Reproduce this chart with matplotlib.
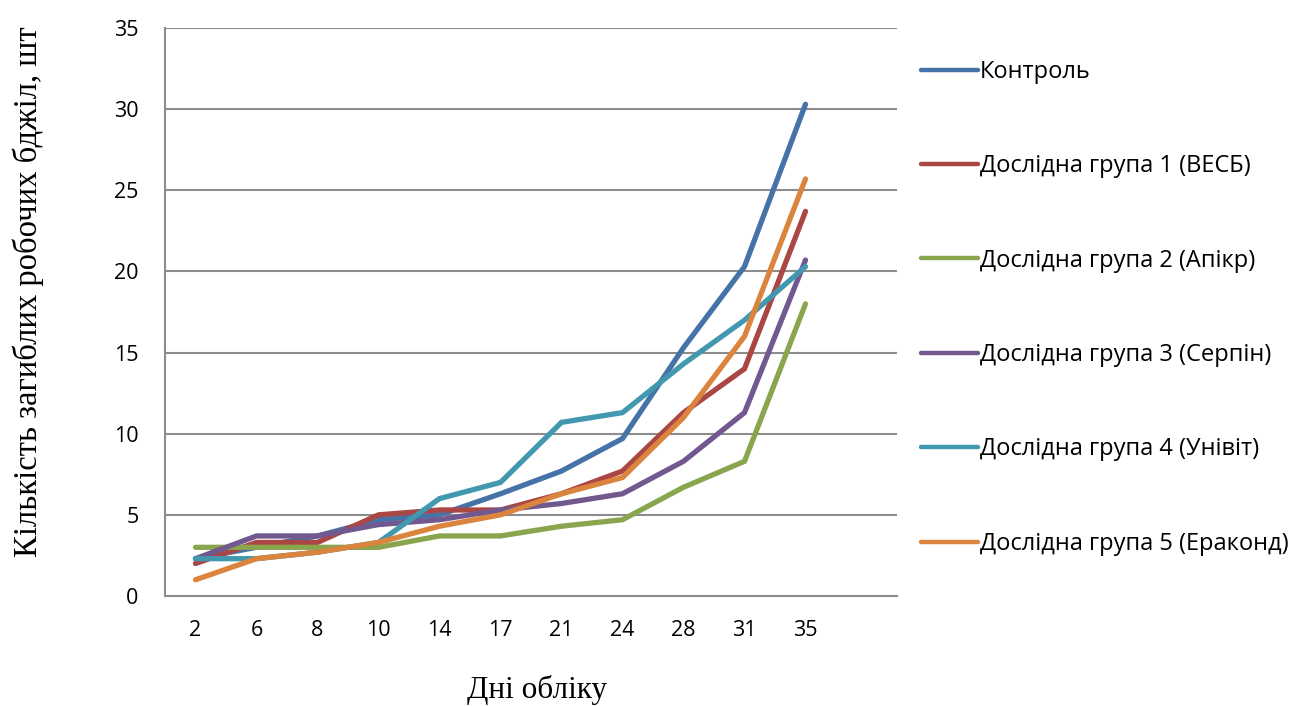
import matplotlib
matplotlib.use("Agg")
import matplotlib.pyplot as plt

days = ["2", "6", "8", "10", "14", "17", "21", "24", "28", "31", "35"]
series_names = [
    "Контроль",
    "Дослідна група 1 (ВЕСБ)",
    "Дослідна група 2 (Апікр)",
    "Дослідна група 3 (Серпін)",
    "Дослідна група 4 (Унівіт)",
    "Дослідна група 5 (Ераконд)",
]
control = [2.3, 3.0, 3.7, 4.7, 5.0, 6.3, 7.7, 9.7, 15.3, 20.3, 30.3]
group1 = [2.0, 3.3, 3.3, 5.0, 5.3, 5.3, 6.3, 7.7, 11.3, 14.0, 23.7]
group2 = [3.0, 3.0, 3.0, 3.0, 3.7, 3.7, 4.3, 4.7, 6.7, 8.3, 18.0]
group3 = [2.3, 3.7, 3.7, 4.4, 4.7, 5.3, 5.7, 6.3, 8.3, 11.3, 20.7]
group4 = [2.3, 2.3, 2.7, 3.3, 6.0, 7.0, 10.7, 11.3, 14.3, 17.0, 20.3]
group5 = [1.0, 2.3, 2.7, 3.3, 4.3, 5.0, 6.3, 7.3, 11.0, 16.0, 25.7]
colors = ["#4572A7", "#AA4643", "#89A54E", "#71588F", "#4198AF", "#DB843D"]

plt.rcParams['font.family'] = ['Open Sans', 'DejaVu Sans']

fig = plt.figure(figsize=(12.91, 7.06), dpi=100)
ax = fig.add_axes([165/1291, 1-596/706, (897-165)/1291, (596-28)/706])

x = list(range(len(days)))
for vals, name, c in zip([control, group1, group2, group3, group4, group5], series_names, colors):
    ax.plot(x, vals, color=c, lw=3.8, label=name, solid_joinstyle='miter', solid_capstyle='round')

ax.set_xlim(-0.5, len(days) + 0.5)
ax.set_ylim(0, 35)
ax.set_yticks(range(0, 36, 5))
ax.set_xticks(x)
ax.set_xticklabels(days)
ax.yaxis.grid(True, color="#8C8C8C", lw=1.5)
ax.set_axisbelow(True)
for s in ["top", "right"]:
    ax.spines[s].set_visible(False)
for s in ["left", "bottom"]:
    ax.spines[s].set_color("#8C8C8C")
    ax.spines[s].set_linewidth(1.5)
ax.tick_params(axis='both', length=0, labelsize=15.5, colors='black')
ax.tick_params(axis='x', pad=17)
ax.tick_params(axis='y', pad=19)

fig.text(28/1291, 1-292/706, "Кількість загиблих робочих бджіл, шт", rotation=90,
         ha='center', va='center', fontsize=23.5, family=['Liberation Serif', 'DejaVu Serif'])
fig.text(537/1291, 1-690/706, "Дні обліку", ha='center', va='center',
         fontsize=22.5, family=['Liberation Serif', 'DejaVu Serif'])

leg = ax.legend(loc='upper left', bbox_to_anchor=(921/1291, 1-60/706),
                bbox_transform=fig.transFigure, frameon=False, fontsize=17,
                handlelength=2.4, handletextpad=0.1, labelspacing=2.98,
                borderaxespad=0, borderpad=0)
for line in leg.get_lines():
    line.set_linewidth(3.2)

fig.savefig("out.png", dpi=100)
